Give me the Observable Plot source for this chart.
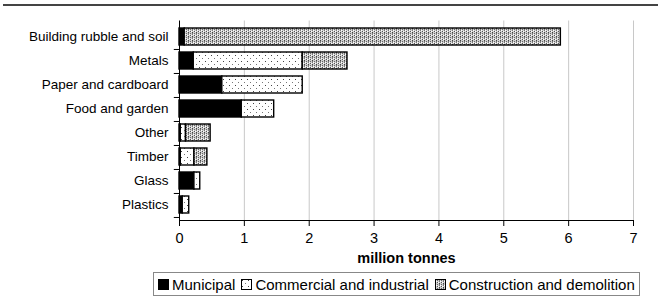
<!DOCTYPE html>
<html>
<head>
<meta charset="utf-8">
<script src="https://cdn.jsdelivr.net/npm/d3@7"></script>
<script src="https://cdn.jsdelivr.net/npm/@observablehq/plot@0.6"></script>
<style>
  html, body { margin: 0; padding: 0; background: #fff; }
  body { width: 658px; height: 307px; position: relative; overflow: hidden;
         font-family: "Liberation Sans", Arial, sans-serif; }
  #rule { position: absolute; left: 3px; right: 0; top: 4px; height: 2px; background: #444; }
  #chart { position: absolute; left: 0; top: 0; }
  #legend { position: absolute; left: 153px; top: 272px; width: 485px; height: 22px;
            border: 1px solid #888; box-sizing: content-box; display: flex; align-items: center;
            font-size: 15px; color: #000; white-space: nowrap; }
  #legend span.item { display: inline-flex; align-items: center; margin-left: 4px; margin-right: 2px; }
  #legend svg { margin-right: 3px; }
</style>
</head>
<body>
<div id="chart"></div>
<div id="rule"></div>
<div id="legend"></div>
<script>
// Waste generated by material and source sector, million tonnes
const categories = ["Building rubble and soil", "Metals", "Paper and cardboard", "Food and garden", "Other", "Timber", "Glass", "Plastics"];
const series = ["Municipal", "Commercial and industrial", "Construction and demolition"];
const municipal  = [0.08, 0.22, 0.66, 0.96, 0.02, 0.02, 0.23, 0.05];
const commercial = [0.00, 1.68, 1.24, 0.50, 0.08, 0.21, 0.09, 0.10];
const construction = [5.80, 0.69, 0.00, 0.00, 0.38, 0.20, 0.00, 0.00];
const xTicks = [0, 1, 2, 3, 4, 5, 6, 7];

const fills = ["#000", "url(#pat-ci)", "url(#pat-cd)"];

const rows = [];
categories.forEach((c, i) => {
  [municipal, commercial, construction].forEach((arr, j) => {
    rows.push({category: c, series: series[j], value: arr[i]});
  });
});

const PATTERNS = `
<defs>
  <pattern id="pat-ci" width="6" height="6" patternUnits="userSpaceOnUse">
    <rect width="6" height="6" fill="#fff"/>
    <rect x="1" y="1" width="1" height="1" fill="#444"/>
    <rect x="4" y="4" width="1" height="1" fill="#777"/>
  </pattern>
  <pattern id="pat-cd" width="4" height="4" patternUnits="userSpaceOnUse">
    <rect width="4" height="4" fill="#cfcfcf"/>
    <rect x="0" y="0" width="1" height="1" fill="#444"/>
    <rect x="0" y="1" width="1" height="1" fill="#777"/>
    <rect x="2" y="1" width="1" height="1" fill="#666"/>
    <rect x="1" y="2" width="1" height="1" fill="#fff"/>
    <rect x="3" y="3" width="1" height="1" fill="#fff"/>
    <rect x="0" y="2" width="1" height="1" fill="#777"/>
    <rect x="2" y="3" width="1" height="1" fill="#555"/>
  </pattern>
</defs>`;

const plot = Plot.plot({
  width: 658,
  height: 268,
  marginLeft: 179,
  marginRight: 25,
  marginTop: 20.5,
  marginBottom: 48,
  style: {fontFamily: '"Liberation Sans", Arial, sans-serif', fontSize: "13.5px", color: "#000", background: "#fff"},
  x: {domain: [0, 7], ticks: xTicks, label: null},
  y: {domain: categories, paddingInner: 0.3, paddingOuter: 0.15, label: null},
  color: {type: "ordinal", domain: series, range: fills},
  marks: [
    Plot.gridX(xTicks.slice(1), {stroke: "#c8c8c8", strokeOpacity: 1}),
    Plot.barX(rows, Plot.stackX({
      y: "category", x: "value", fill: "series", order: series,
      stroke: "#000", strokeWidth: 1.4
    })),
    Plot.frame({anchor: "left", stroke: "#000"}),
    Plot.frame({anchor: "bottom", stroke: "#000"}),
    Plot.axisX(xTicks, {tickSize: 6, tickPadding: 6, fontSize: 14.5, label: null}),
    Plot.axisY({tickSize: 0, tickPadding: 11, fontSize: 13.5, label: null}),
    Plot.ruleY(categories, {y: d => d, dy: 12.47, x1: -0.08, x2: 0, stroke: "#000"}),
    Plot.text(["million tonnes"], {frameAnchor: "bottom", dy: 42, fontWeight: "bold", fontSize: 14.5})
  ]
});
plot.insertAdjacentHTML("afterbegin", PATTERNS);
document.getElementById("chart").appendChild(plot);

// Legend
const legend = document.getElementById("legend");
series.forEach((s, i) => {
  const item = document.createElement("span");
  item.className = "item";
  item.innerHTML = `<svg width="11" height="11"><rect x="0.5" y="0.5" width="10" height="10" fill="${fills[i]}" stroke="#000"/></svg>${s}`;
  legend.appendChild(item);
});
</script>
</body>
</html>
